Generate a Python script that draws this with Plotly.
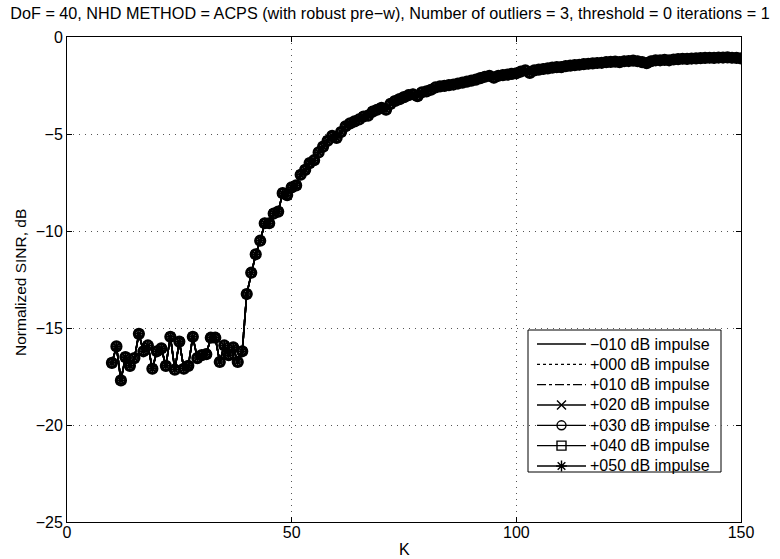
import plotly.graph_objects as go

# Training-sample support K and normalized output SINR (dB)
K = list(range(10, 151))
sinr_db = [
    # K = 10 .. 39
    -16.8, -15.95, -17.7, -16.5, -16.95, -16.55, -15.3, -16.2, -15.9, -17.1,
    -16.2, -16.05, -16.95, -15.45, -17.15, -15.7, -17.1, -16.95, -15.45, -16.55,
    -16.4, -16.35, -15.5, -15.5, -16.75, -15.9, -16.4, -16.0, -16.75, -16.2,
    # K = 40 .. 69
    -13.25, -12.15, -11.2, -10.5, -9.6, -9.6, -9.1, -9.0, -8.05, -8.15,
    -7.75, -7.65, -7.1, -6.85, -6.5, -6.35, -5.95, -5.65, -5.35, -5.1,
    -5.2, -4.9, -4.6, -4.45, -4.35, -4.25, -4.1, -4.05, -3.85, -3.75,
    # K = 70 .. 99
    -3.65, -3.75, -3.45, -3.3, -3.2, -3.1, -3.0, -2.95, -3.05, -2.85,
    -2.8, -2.72, -2.6, -2.55, -2.52, -2.48, -2.45, -2.4, -2.35, -2.3,
    -2.25, -2.2, -2.12, -2.05, -2.0, -2.1, -2.0, -1.97, -1.94, -1.9,
    # K = 100 .. 129
    -1.87, -1.78, -1.72, -1.85, -1.72, -1.68, -1.65, -1.62, -1.58, -1.55,
    -1.55, -1.5, -1.48, -1.45, -1.43, -1.4, -1.38, -1.36, -1.34, -1.33,
    -1.3, -1.28, -1.27, -1.3, -1.25, -1.24, -1.22, -1.25, -1.3, -1.35,
    # K = 130 .. 150
    -1.25, -1.2, -1.2, -1.18, -1.2, -1.16, -1.14, -1.12, -1.13, -1.11,
    -1.1, -1.09, -1.08, -1.07, -1.08, -1.06, -1.06, -1.05, -1.07, -1.08,
    -1.1,
]

impulse_labels = ["\u2212010 dB impulse", "+000 dB impulse", "+010 dB impulse",
                  "+020 dB impulse", "+030 dB impulse", "+040 dB impulse",
                  "+050 dB impulse"]
line_dashes = ["solid", "dot", "dashdot", "solid", "solid", "solid", "solid"]
marker_symbols = [None, None, None, "x-thin-open", "circle-open",
                  "square-open", "asterisk-open"]
marker_sizes = [0, 0, 0, 8, 10, 7, 9]
marker_widths = [0, 0, 0, 1.5, 2.2, 1.6, 1.6]

x_ticks = [0, 50, 100, 150]
y_ticks = [0, -5, -10, -15, -20, -25]

FONT = "Liberation Sans, Arial, Helvetica, sans-serif"
FS = 16

# figure and plot-area geometry in pixels
W, H = 780, 559
ML, MR, MT, MB = 67, 39, 37, 37
PW, PH = W - ML - MR, H - MT - MB


def px_x(p):
    return (p - ML) / PW


def px_y(p):
    return 1 - (p - MT) / PH


fig = go.Figure()
for label, dash, sym, ms, mw in zip(impulse_labels, line_dashes, marker_symbols,
                                    marker_sizes, marker_widths):
    style = dict(line=dict(color="black", width=1.6, dash=dash))
    if sym is None:
        fig.add_trace(go.Scatter(x=K, y=sinr_db, mode="lines", name=label,
                                 showlegend=False, **style))
    else:
        fig.add_trace(go.Scatter(
            x=K, y=sinr_db, mode="lines+markers", name=label, showlegend=False,
            marker=dict(symbol=sym, size=ms, color="black",
                        line=dict(color="black", width=mw)),
            **style))

# legend box: white panel above the grid, keys drawn on an overlay axis
box_l, box_r, box_t, box_b = 528, 721, 330, 472
row_y0, row_gap = 344, 20.33
key_l, key_r, text_l = 537, 586, 588

fig.add_shape(type="rect", xref="paper", yref="paper",
              x0=px_x(box_l), x1=px_x(box_r), y0=px_y(box_b), y1=px_y(box_t),
              fillcolor="white", line=dict(color="black", width=1),
              layer="between")

for i, (label, dash, sym) in enumerate(zip(impulse_labels, line_dashes, marker_symbols)):
    yy = px_y(row_y0 + i * row_gap)
    fig.add_trace(go.Scatter(
        x=[px_x(key_l), px_x(key_r)], y=[yy, yy], mode="lines",
        line=dict(color="black", width=1.3, dash=dash),
        xaxis="x2", yaxis="y2", showlegend=False, hoverinfo="skip"))
    if sym is not None:
        fig.add_trace(go.Scatter(
            x=[px_x((key_l + key_r) / 2)], y=[yy], mode="markers",
            marker=dict(symbol=sym, size=9, color="black",
                        line=dict(color="black", width=1.4)),
            xaxis="x2", yaxis="y2", showlegend=False, hoverinfo="skip"))
    fig.add_annotation(x=px_x(text_l), y=yy, xref="paper", yref="paper",
                       text=label, showarrow=False, xanchor="left",
                       yanchor="middle",
                       font=dict(family=FONT, size=FS, color="black"))

# axis titles
fig.add_annotation(x=0.5, y=px_y(549), xref="paper", yref="paper", text="K",
                   showarrow=False, xanchor="center", yanchor="middle",
                   font=dict(family=FONT, size=FS, color="black"))
fig.add_annotation(x=px_x(20), y=px_y(282), xref="paper", yref="paper",
                   text="Normalized SINR, dB", textangle=-90,
                   showarrow=False, xanchor="center", yanchor="middle",
                   font=dict(family=FONT, size=15.5, color="black"))

axis_common = dict(
    showline=True, linecolor="black", linewidth=1, mirror="allticks",
    ticks="inside", ticklen=5, tickcolor="black",
    showgrid=True, gridcolor="#555555", gridwidth=1, griddash="1px,5px",
    zeroline=False, automargin=False,
    tickfont=dict(family=FONT, size=FS, color="black"),
)

fig.update_xaxes(range=[0, 150], tickvals=x_ticks, ticklabelstandoff=-4,
                 **axis_common)
fig.update_yaxes(range=[-25, 0], tickvals=y_ticks, **axis_common)

fig.update_layout(
    width=W, height=H,
    margin=dict(l=ML, r=MR, t=MT, b=MB, autoexpand=False),
    paper_bgcolor="white", plot_bgcolor="white",
    font=dict(family=FONT, size=FS, color="black"),
    xaxis2=dict(range=[0, 1], overlaying="x", visible=False, fixedrange=True),
    yaxis2=dict(range=[0, 1], overlaying="y", visible=False, fixedrange=True),
    title=dict(
        text="DoF = 40, NHD METHOD = ACPS (with robust pre\u2212w), "
             "Number of outliers = 3, threshold = 0 iterations = 1",
        x=0.5, xref="container", xanchor="center",
        y=1 - 13 / H, yref="container", yanchor="middle",
        font=dict(family=FONT, size=16.2, color="black"),
        automargin=False,
    ),
    showlegend=False,
)

fig.write_html("out.html")
